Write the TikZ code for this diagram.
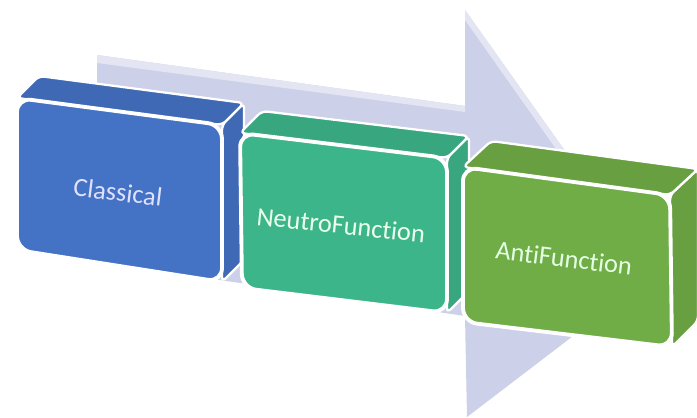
\documentclass[tikz,border=0pt]{standalone}
\usepackage{fontspec}
\setmainfont{Carlito}[Ligatures=NoCommon]
\usepackage{tikz}
\tikzset{>=latex}
\usetikzlibrary{calc,positioning}
\definecolor{arrowlav}{HTML}{CDD0E9}
\definecolor{arrowtop}{HTML}{E3E5F2}
\definecolor{classblue}{HTML}{4472C4}
\definecolor{neutrogreen}{HTML}{3DB58A}
\definecolor{antigreen}{HTML}{70AD47}
\tikzset{
  frontface/.style={draw=white,line width=2.2pt,rounded corners=8pt,fill=#1},
  sideface/.style={draw=white,line width=1.3pt,rounded corners=3pt,fill=#1!92!black},
  boxlabel/.style={font=\fontsize{15}{18}\selectfont,text=#1,inner sep=0pt}
}

\begin{document}
\begin{tikzpicture}[x=0.02cm,y=-0.02cm]
                \useasboundingbox (0,0) rectangle (697,418);
                \fill[arrowlav] (97,55) -- (465,106) -- (465,10) -- (653,275) -- (467,417) -- (465,316) -- (97,262) -- cycle;
                \fill[arrowtop] (97,55) -- (465,106) -- (465,112) -- (97,63) -- cycle;
                \fill[arrowtop] (465,10) -- (653,275) -- (645,275) -- (465,20) -- cycle;

                \draw[sideface=classblue] (222,125) -- (244,103) -- (244,260) -- (222,282) -- cycle;
                \draw[sideface=classblue] (17,98) -- (39,76) -- (244,103) -- (222,125) -- cycle;
                \draw[frontface=classblue] (17,98) -- (222,125) -- (222,282) -- (17,250) -- cycle;
                \node[boxlabel=blue!12!white,rotate=-7] (classical) at (118,192) {Classical};

                \draw[sideface=neutrogreen] (447,158) -- (469,136) -- (469,291) -- (447,313) -- cycle;
                \draw[sideface=neutrogreen] (240,133) -- (262,111) -- (469,136) -- (447,158) -- cycle;
                \draw[frontface=neutrogreen] (240,133) -- (447,158) -- (447,313) -- (242,288) -- cycle;
                \node[boxlabel=green!8!white,rotate=-6] (neutro) at (341,225) {NeutroFunction};

                \draw[sideface=antigreen] (670,195) -- (698,169) -- (698,321) -- (672,347) -- cycle;
                \draw[sideface=antigreen] (463,167) -- (491,141) -- (698,169) -- (670,195) -- cycle;
                \draw[frontface=antigreen] (463,167) -- (670,195) -- (672,347) -- (463,322) -- cycle;
                \node[boxlabel=green!10!white,rotate=-7] (anti) at (564,258) {AntiFunction};
\end{tikzpicture}
\end{document}
